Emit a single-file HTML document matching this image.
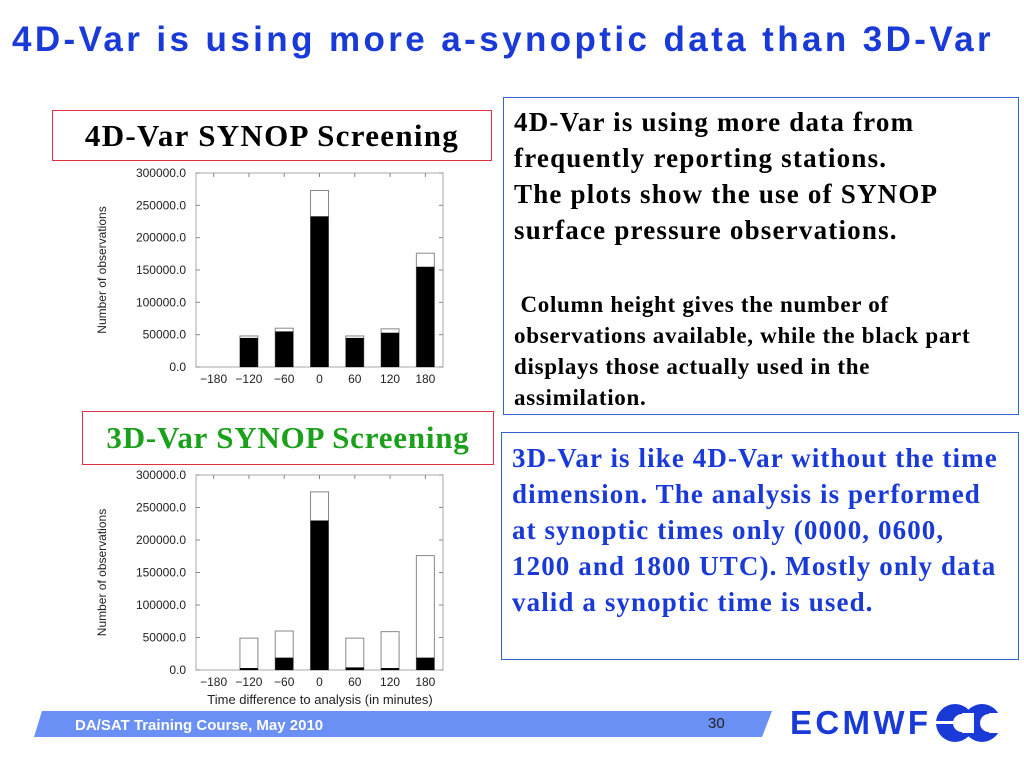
<!DOCTYPE html>
<html><head><meta charset="utf-8"><style>
body{margin:0;width:1024px;height:768px;background:#fff;position:relative;overflow:hidden;font-family:"Liberation Serif",serif}
.abs{position:absolute}
.tb{position:absolute;border:1px solid #3366cc;background:#fff;font-weight:bold;box-sizing:border-box}
</style></head><body>
<div class="abs" style="left:12px;top:20px;font:bold 35px 'Liberation Sans',sans-serif;letter-spacing:3.4px;color:#1a3ad8;white-space:nowrap">4D-Var is using more a-synoptic data than 3D-Var</div>

<div class="abs" style="left:52px;top:110px;width:440px;height:51px;border:1px solid #e03040;box-sizing:border-box;background:#fff;font:bold 31px 'Liberation Serif',serif;letter-spacing:1.3px;text-align:center;line-height:49px;color:#000;white-space:nowrap">4D-Var SYNOP Screening</div>
<div class="abs" style="left:82px;top:411px;width:412px;height:54px;border:1px solid #e03040;box-sizing:border-box;background:#fff;font:bold 31px 'Liberation Serif',serif;letter-spacing:0.8px;text-align:center;line-height:52px;color:#1aa01a;white-space:nowrap">3D-Var SYNOP Screening</div>

<div class="tb" style="left:503px;top:97px;width:516px;height:318px;padding:6px 10px;color:#000">
<div style="font-size:27px;letter-spacing:1.2px;line-height:36px">4D-Var is using more data from frequently reporting stations.<br>The plots show the use of SYNOP surface pressure observations.</div>
<div style="font-size:23px;letter-spacing:0.7px;line-height:31px;margin-top:41px">&nbsp;Column height gives the number of observations available, while the black part displays those actually used in the assimilation.</div>
</div>
<div class="tb" style="left:501px;top:432px;width:518px;height:228px;padding:7px 10px;color:#1a3ad8;font-size:27px;letter-spacing:1.1px;line-height:36px">3D-Var is like 4D-Var without the time dimension. The analysis is performed at synoptic times only (0000, 0600, 1200 and 1800 UTC). Mostly only data valid a synoptic time is used.</div>

<svg class="abs" style="left:0;top:0" width="1024" height="768">
<g id="c1"></g>
<g id="c2"></g>
<text x="320" y="704" font-family="Liberation Sans" font-size="13" text-anchor="middle" fill="#222">Time difference to analysis (in minutes)</text>
<polygon points="42,711 772,711 762,737 34,737" fill="#6a8ff5"/>
<text x="75" y="730" font-family="Liberation Sans" font-size="15" font-weight="bold" fill="#fff">DA/SAT Training Course,  May 2010</text>
<text x="708" y="728" font-family="Liberation Sans" font-size="15" fill="#222">30</text>
<text x="790" y="734" font-family="Liberation Sans" font-size="33" font-weight="bold" fill="#1a3ad8" textLength="138">ECMWF</text>
<g>
<circle cx="955" cy="723" r="19" fill="#1a3ad8"/><circle cx="982" cy="723" r="19" fill="#1a3ad8"/>
<circle cx="962" cy="723" r="9" fill="#fff"/><circle cx="989" cy="723" r="9" fill="#fff"/>
<rect x="962" y="713" width="12" height="20" fill="#fff"/><rect x="989" y="713" width="12" height="20" fill="#fff"/>
<rect x="936" y="721" width="30" height="3" fill="#fff"/>
</g>
</svg>
<script>
const categories=["−180","−120","−60","0","60","120","180"];
const yTicks=[0,50000,100000,150000,200000,250000,300000];
const total4d=[0,48000,60000,273000,48000,59000,176000];
const used4d=[0,45000,55000,233000,45000,53000,155000];
const total3d=[0,49000,60000,274000,49000,59000,176000];
const used3d=[0,3000,19000,230000,4000,3000,19000];
const NS="http://www.w3.org/2000/svg";
function mk(g,tag,a){const e=document.createElementNS(NS,tag);for(const k in a)e.setAttribute(k,a[k]);g.appendChild(e);return e;}
function chart(id,top,bottom,total,used){
  const g=document.getElementById(id);
  const L=196,R=443,n=categories.length,sw=(R-L)/n;
  const y=v=>bottom-(v/300000)*(bottom-top);
  const x=i=>L+sw*(i+0.5);
  const fr=mk(g,'rect',{x:L,y:top,width:R-L,height:bottom-top,fill:'none',stroke:'#aaa','stroke-width':1});
  
  yTicks.forEach(v=>{
    const t=mk(g,'text',{x:L-10,y:y(v)+4,'font-family':'Liberation Sans','font-size':12,'text-anchor':'end',fill:'#222'});t.textContent=v.toFixed(1);
    
    mk(g,'line',{x1:L,x2:L+4,y1:y(v),y2:y(v),stroke:'#888'});
    mk(g,'line',{x1:R,x2:R-4,y1:y(v),y2:y(v),stroke:'#888'});
  });
  const yl=mk(g,'text',{transform:`translate(106,${(top+bottom)/2}) rotate(-90)`,'font-family':'Liberation Sans','font-size':12,'text-anchor':'middle',fill:'#222'});
  yl.textContent='Number of observations';
  categories.forEach((c,i)=>{
    const t=mk(g,'text',{x:x(i),y:bottom+16,'font-family':'Liberation Sans','font-size':12,'text-anchor':'middle',fill:'#222'});t.textContent=c;
    
    mk(g,'line',{x1:x(i),x2:x(i),y1:top,y2:top+4,stroke:'#888'});
    if(total[i]>0){
      const b=mk(g,'rect',{x:x(i)-9,y:y(total[i]),width:18,height:bottom-y(total[i]),fill:'#fff',stroke:'#888','stroke-width':1});
      
      const u=mk(g,'rect',{x:x(i)-9,y:y(used[i]),width:18,height:bottom-y(used[i]),fill:'#000'});
      
    }
  });
}
chart('c1',173,367,total4d,used4d);
chart('c2',475,670,total3d,used3d);
</script>
</body></html>
